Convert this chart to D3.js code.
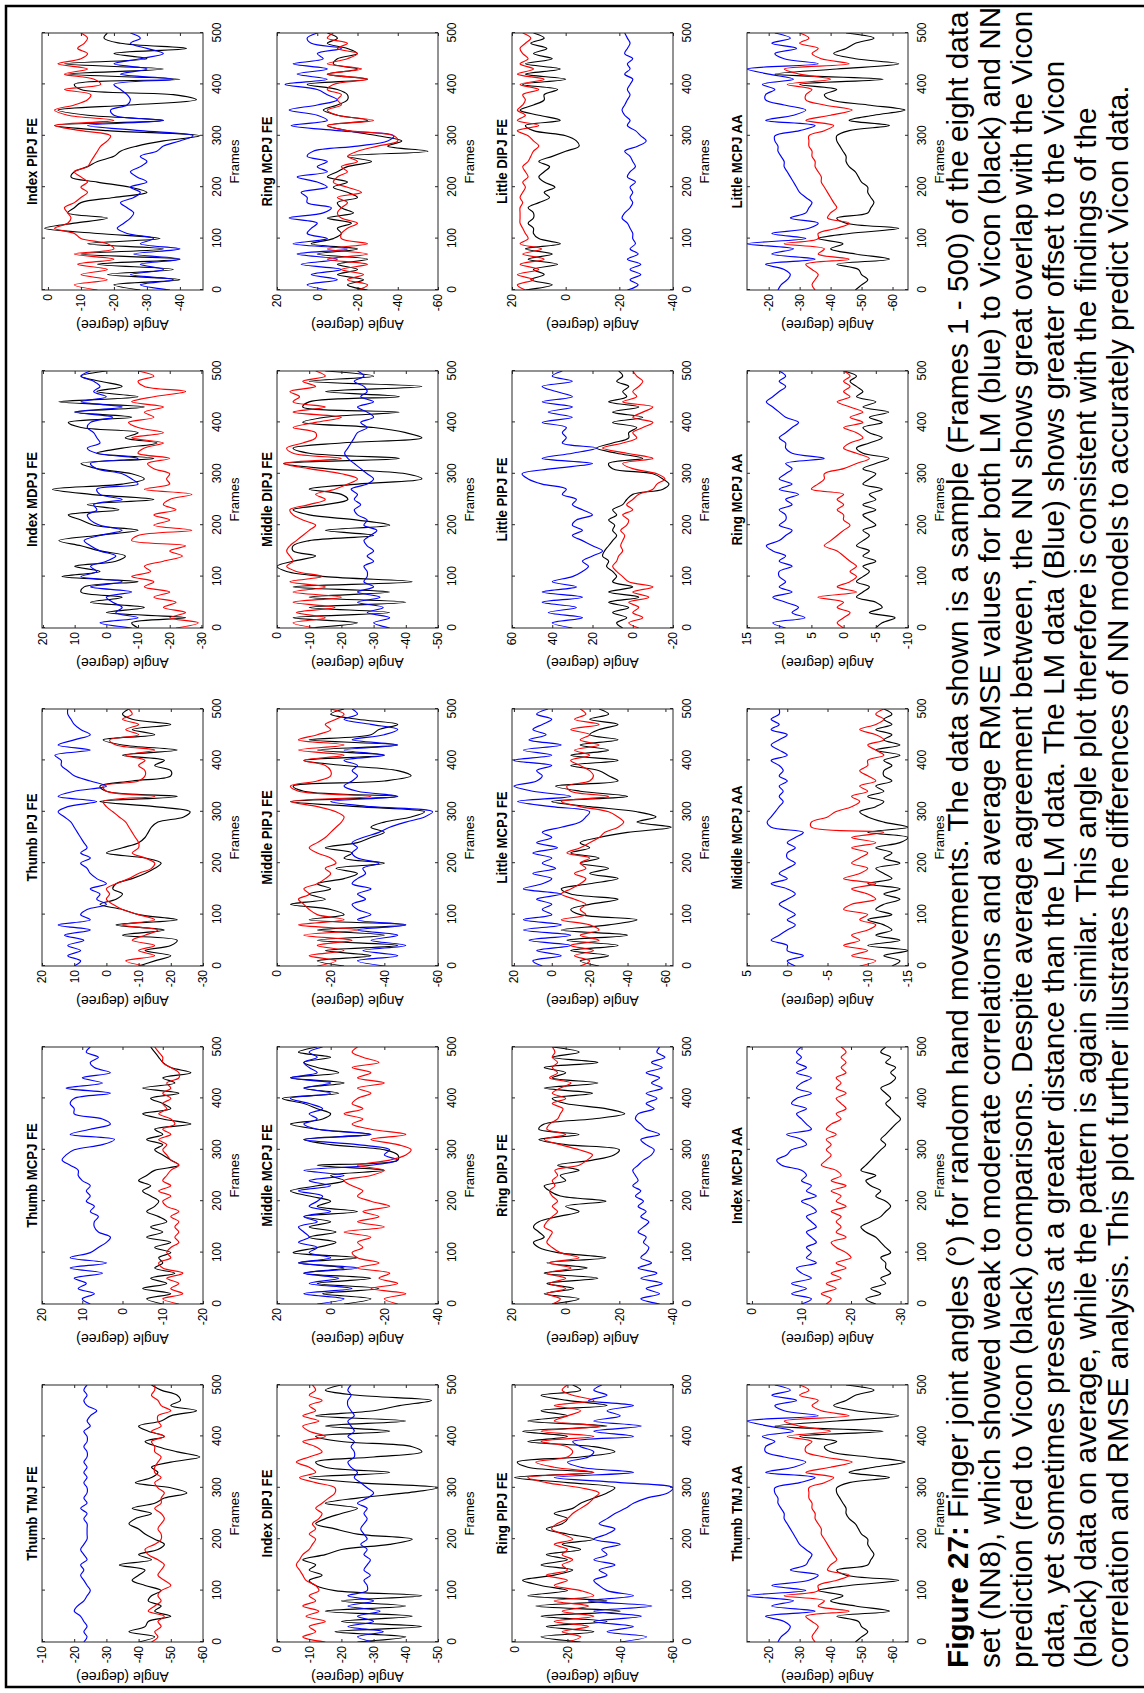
<!DOCTYPE html>
<html>
<head>
<meta charset="utf-8">
<script src="https://cdn.jsdelivr.net/npm/d3@7"></script>
<style>
  html, body { margin: 0; padding: 0; background: #fff; }
  svg { display: block; }
</style>
</head>
<body>
<svg id="fig" width="1144" height="1693"></svg>
<script>
// Sampled frame indices (every 10th frame of frames 0-500)
const frames = d3.range(0, 501, 10);
const frameTicks = [0, 100, 200, 300, 400, 500];

// ---- Joint angle series (degrees): Vicon (black), LM (blue), NN (red) ----
const thumbTmjFeVicon = [-40,-45,-37,-42,-43,-50,-45,-47,-43,-44,-47,-42,-38,-40,-42,-34,-44,-40,-46,-48,-45,-42,-40,-37,-39,-44,-38,-45,-48,-55,-50,-39,-44,-46,-44,-50,-59,-52,-46,-42,-48,-43,-40,-47,-50,-58,-50,-53,-52,-47,-44];
const thumbTmjFeLM    = [-23,-24,-23,-24,-23,-22,-20,-21,-23,-24,-25,-24,-23,-22,-23,-22,-24,-23,-22,-23,-24,-24,-24,-24,-23,-24,-22,-24,-23,-24,-24,-23,-24,-23,-24,-23,-24,-24,-23,-24,-24,-23,-25,-24,-25,-27,-24,-23,-24,-23,-24];
const thumbTmjFeNN    = [-44,-46,-45,-47,-46,-48,-43,-45,-47,-46,-47,-50,-48,-46,-47,-48,-46,-43,-42,-45,-47,-47,-46,-47,-48,-47,-45,-47,-47,-48,-46,-45,-47,-45,-45,-46,-47,-45,-45,-44,-48,-44,-47,-46,-46,-50,-47,-46,-44,-45,-45];

const thumbMcpjFeVicon = [-10,-6,-12,-5,-11,-7,-13,-8,-10,-9,-12,-8,-12,-6,-10,-7,-11,-9,-6,-8,-9,-7,-5,-7,-4,-6,-8,-14,-12,-10,-8,-10,-6,-10,-8,-17,-10,-5,-12,-10,-7,-14,-5,-13,-10,-17,-12,-10,-9,-8,-7];
const thumbMcpjFeLM    = [8,10,7,11,9,12,5,13,4,13,8,6,4,3,6,7,7,6,8,7,9,8,9,8,10,11,11,13,15,14,12,5,2,13,8,3,5,12,12,13,12,3,14,5,10,3,7,8,6,9,8];
const thumbMcpjFeNN    = [-14,-10,-15,-12,-14,-11,-15,-10,-9,-12,-11,-12,-14,-13,-14,-13,-14,-12,-14,-11,-10,-12,-9,-12,-10,-11,-12,-14,-12,-11,-10,-11,-9,-12,-10,-13,-12,-9,-11,-10,-12,-10,-12,-11,-14,-14,-12,-10,-10,-9,-8];

const thumbIpjFeVicon = [-10,-15,-20,-12,-20,-22,-5,-18,-3,-22,-10,-5,2,-3,-5,-2,-3,-8,-12,-15,-17,-12,0,-5,-10,-12,-13,-14,-16,-24,-26,-15,2,-22,0,2,-8,-20,-20,-15,-18,-5,-22,-5,1,-15,-8,-20,-8,-5,-7];
const thumbIpjFeLM    = [10,8,12,8,12,7,13,5,15,5,8,6,0,3,2,5,0,3,5,6,8,5,8,6,7,8,9,10,11,13,15,12,3,15,10,0,5,10,12,14,14,16,5,15,10,5,8,10,11,12,12];
const thumbIpjFeNN    = [-12,-6,-15,-10,-15,-8,-12,-16,-5,-15,-10,-5,-2,0,-1,0,-3,-7,-10,-14,-15,-12,-8,-10,-10,-9,-8,-7,-6,-4,-2,0,1,-15,0,1,-10,-12,-12,-10,-12,-6,-15,-3,-1,-10,-6,-10,-5,-8,-7];

const indexMdpjFeVicon = [-10,-8,-25,0,-12,5,-5,8,7,-10,14,2,10,-3,-6,2,8,15,3,-10,4,8,12,-4,6,-15,5,17,-5,-12,-8,3,8,-15,3,-5,-16,-6,-10,8,12,-8,10,-12,15,-10,3,-5,2,8,0];
const indexMdpjFeLM    = [-8,2,-10,-3,-5,-2,0,-8,5,-5,8,3,5,0,-3,2,5,7,2,-5,2,5,6,3,4,-5,2,3,-10,-8,-5,3,5,-10,3,6,2,3,4,6,5,-2,10,-5,8,0,4,2,4,8,5];
const indexMdpjFeNN    = [-22,-29,-20,-25,-18,-22,-15,-20,-12,-15,-8,-14,-12,-18,-24,-20,-25,-8,-10,-27,-15,-20,-15,-22,-18,-20,-27,-12,-20,-19,-20,-15,-13,-20,-10,-12,-18,-8,-18,-10,-7,-15,-12,-18,-8,-15,-25,-12,-10,-15,-10];

const indexPipjFeVicon = [-28,-20,-40,-18,-38,-15,-40,-10,-35,-12,-34,-15,1,-8,-18,-6,-8,-10,-20,-30,-25,-15,-7,-8,-12,-15,-20,-22,-27,-35,-46,-18,-2,-35,-12,-3,-25,-45,-38,-10,-8,-40,-6,-35,-5,-30,-20,-42,-22,-17,-18];
const indexPipjFeLM    = [-37,-28,-38,-25,-35,-28,-40,-26,-40,-28,-32,-24,-21,-23,-25,-26,-24,-22,-26,-28,-25,-30,-27,-25,-28,-30,-28,-33,-35,-40,-44,-28,-12,-35,-20,-19,-24,-25,-24,-22,-20,-38,-22,-30,-20,-28,-35,-30,-25,-28,-25];
const indexPipjFeNN    = [-15,-8,-18,-10,-18,-9,-20,-8,-20,-18,-10,-8,-2,-6,-7,-6,-5,-8,-10,-12,-10,-12,-10,-8,-12,-13,-14,-15,-16,-18,-19,-10,-2,-20,-6,-2,-8,-12,-13,-5,-16,-14,-5,-12,-3,-10,-12,-9,-11,-12,-10];

const indexDipjFeVicon = [-25,-40,-18,-45,-20,-42,-15,-40,-20,-45,-18,-12,-10,-14,-10,-12,-8,-15,-20,-35,-42,-25,-18,-12,-15,-20,-25,-15,-25,-40,-50,-25,-10,-35,-15,-12,-30,-45,-42,-20,-12,-35,-15,-40,-12,-30,-38,-48,-25,-15,-20];
const indexDipjFeLM    = [-30,-25,-33,-22,-30,-25,-32,-22,-30,-22,-28,-28,-27,-29,-27,-28,-29,-27,-28,-26,-28,-27,-26,-27,-28,-27,-28,-25,-28,-30,-28,-26,-24,-25,-23,-22,-24,-24,-23,-24,-22,-24,-23,-22,-24,-23,-22,-22,-23,-22,-23];
const indexDipjFeNN    = [-15,-8,-12,-10,-15,-9,-13,-8,-12,-10,-13,-12,-9,-8,-7,-6,-7,-8,-10,-11,-12,-10,-12,-11,-13,-14,-12,-14,-16,-18,-18,-12,-7,-12,-10,-6,-10,-14,-12,-8,-15,-10,-8,-13,-8,-12,-10,-14,-10,-12,-11];

const middleMcpjFeVicon = [-5,-15,3,-18,5,-15,10,-5,12,-10,14,5,-2,8,-2,8,0,10,-10,5,0,8,15,5,-5,0,-20,5,-25,-25,-20,0,10,-15,5,15,3,0,5,10,18,-3,10,-5,15,-3,5,10,0,12,5];
const middleMcpjFeLM    = [5,-5,10,-8,8,-3,10,-10,12,0,8,5,12,8,10,12,5,10,0,8,5,3,12,0,8,-5,10,-15,-25,-20,-22,-10,10,-15,5,10,5,8,3,8,15,0,10,0,15,5,8,10,5,8,3];
const middleMcpjFeNN    = [-25,-20,-28,-15,-25,-18,-22,-10,-18,-10,-8,-12,-10,-15,-5,-20,-10,-18,-12,-22,-15,-10,-12,-8,-5,-15,-20,-10,-22,-28,-30,-25,-15,-28,-15,-8,-12,-5,-12,-8,-10,-15,-10,-20,-10,-15,-8,-18,-12,-8,-10];

const middlePipjFeVicon = [-25,-15,-35,-18,-45,-15,-40,-15,-48,-12,-25,-20,-5,-18,-12,-20,-15,-25,-30,-22,-40,-25,-28,-18,-30,-35,-40,-35,-40,-50,-55,-30,-5,-45,-10,-6,-40,-50,-45,-25,-10,-40,-15,-45,-12,-35,-38,-45,-30,-20,-25];
const middlePipjFeLM    = [-40,-30,-45,-32,-48,-35,-45,-30,-48,-30,-35,-30,-28,-33,-30,-35,-28,-30,-33,-32,-38,-30,-28,-30,-28,-32,-38,-42,-48,-55,-58,-35,-20,-45,-30,-25,-28,-30,-28,-30,-25,-40,-25,-45,-28,-40,-45,-35,-25,-30,-28];
const middlePipjFeNN    = [-15,-22,-12,-25,-15,-28,-10,-30,-8,-25,-15,-12,-10,-8,-12,-10,-15,-18,-20,-18,-22,-20,-15,-12,-15,-18,-20,-22,-24,-25,-22,-15,-5,-35,-8,-5,-15,-20,-20,-18,-10,-25,-8,-25,-8,-15,-20,-18,-22,-25,-20];

const middleDipjFeVicon = [-10,-25,-5,-35,-10,-40,-10,-35,-5,-42,-15,-3,0,-5,-12,-5,-5,-10,-30,-15,-35,-25,-10,-5,-15,-22,-20,-10,-25,-45,-40,-15,-2,-38,-10,-5,-20,-45,-40,-30,-8,-15,-38,-8,-10,-38,-15,-45,-10,-30,-15];
const middleDipjFeLM    = [-35,-30,-35,-28,-33,-25,-32,-25,-30,-27,-28,-28,-27,-30,-28,-30,-28,-27,-29,-31,-27,-28,-25,-24,-26,-24,-25,-23,-28,-30,-28,-26,-24,-22,-21,-22,-23,-24,-25,-28,-26,-30,-28,-25,-30,-26,-28,-27,-24,-27,-25];
const middleDipjFeNN    = [-12,-5,-15,-6,-18,-5,-20,-5,-15,-4,-14,-6,-3,-5,-4,-3,-4,-6,-8,-10,-12,-8,-5,-4,-10,-15,-12,-18,-22,-25,-20,-10,-2,-20,-5,-3,-8,-12,-12,-5,-12,-20,-5,-15,-5,-7,-4,-12,-8,-15,-12];

const ringMcpjFeVicon = [-25,-15,-23,-10,-20,-10,-25,0,-20,3,-8,-12,-10,-17,-5,-18,-12,-10,-20,-15,-8,-15,-5,-10,-15,-27,-15,-55,-35,-42,-30,-15,-5,-25,-10,-3,-10,-15,-15,-10,5,-25,-5,-20,-8,-10,-20,-15,-5,-10,-5];
const ringMcpjFeLM    = [-5,5,-10,3,-12,8,-10,10,-15,12,-5,5,3,0,14,-3,-7,5,5,8,-5,0,10,-5,0,-5,5,2,-20,-35,-38,-10,13,-5,0,14,0,-10,-5,0,16,-5,10,-5,12,-3,0,-12,3,5,0];
const ringMcpjFeNN    = [-20,-25,-15,-23,-12,-25,-5,-25,-5,-25,-12,-12,-15,-20,-12,-10,-12,-15,-10,-22,-15,-8,-10,-15,-12,-20,-15,-20,-30,-40,-38,-15,-5,-28,-10,-5,-12,-10,-12,-5,-8,-25,-5,-22,-5,-15,-20,-10,-15,-5,-8];

const ringPipjFeVicon = [-25,-10,-30,-12,-35,-10,-40,-8,-35,-5,-20,-10,-3,-15,-22,-10,-20,-12,-25,-18,-30,-20,-12,-18,-20,-15,-22,-25,-30,-35,-38,-20,0,-30,-5,-1,-25,-38,-30,-5,-20,-3,-35,-5,-20,-10,-35,-20,-10,-25,-22];
const ringPipjFeLM    = [-40,-50,-35,-45,-30,-48,-30,-52,-28,-45,-35,-32,-30,-35,-32,-38,-30,-35,-33,-40,-30,-35,-38,-32,-35,-38,-42,-45,-50,-58,-60,-40,-15,-45,-25,-20,-28,-30,-25,-22,-45,-30,-48,-30,-40,-35,-45,-28,-35,-30,-33];
const ringPipjFeNN    = [-20,-25,-18,-28,-15,-30,-18,-28,-15,-30,-25,-15,-20,-12,-20,-18,-22,-18,-20,-15,-22,-18,-14,-16,-20,-22,-25,-28,-30,-32,-25,-12,-5,-30,-15,-8,-20,-22,-20,-10,-30,-10,-32,-15,-20,-25,-15,-30,-22,-18,-20];

const ringDipjFeVicon = [5,-5,8,-3,7,-12,8,-8,7,-15,3,10,12,8,10,12,10,3,-5,0,-15,2,6,8,0,2,-5,3,-10,-18,-20,0,10,-5,10,8,-10,-22,-15,0,5,-10,8,-12,5,0,8,-12,5,-5,5];
const ringDipjFeLM    = [-35,-28,-35,-30,-36,-28,-34,-27,-32,-28,-30,-31,-29,-30,-27,-29,-31,-28,-30,-27,-29,-26,-28,-25,-27,-26,-25,-27,-29,-32,-33,-30,-28,-35,-30,-28,-26,-27,-33,-30,-34,-30,-36,-32,-35,-30,-36,-32,-37,-34,-35];
const ringDipjFeNN    = [5,2,7,0,6,0,7,-2,6,-5,2,5,7,6,5,8,7,5,3,5,3,5,6,4,5,3,4,-5,-8,-10,-5,2,8,0,7,6,3,2,1,5,0,5,2,-2,6,3,5,3,5,4,5];

const littleMcpjFeVicon = [-25,-15,-30,-10,-35,-8,-40,-5,-30,-45,-15,-10,-20,-35,-10,-5,-20,-35,-20,-30,-15,-25,-10,-20,-15,-25,-40,-63,-45,-55,-45,-20,0,-40,-15,-2,-35,-30,-25,-10,-35,-10,-30,-15,-35,-20,-25,-35,-20,-30,-25];
const littleMcpjFeLM    = [5,10,-5,8,-10,12,-10,15,-5,15,0,5,0,8,-5,15,5,0,10,-2,5,0,10,-3,8,0,5,-5,-15,-18,-20,0,18,-10,10,20,8,5,8,0,20,0,15,-5,12,3,10,5,0,8,2];
const littleMcpjFeNN    = [-15,-20,-12,-22,-10,-25,-15,-25,-20,-5,-18,-15,-18,-12,-5,-10,-15,-18,-12,-18,-15,-20,-8,-15,-20,-25,-28,-35,-38,-35,-30,-15,-5,-30,-10,-8,-20,-22,-20,-15,-10,-20,-12,-25,-15,-20,-10,-25,-12,-18,-15];

const littlePipjFeVicon = [5,8,3,10,2,12,-3,12,0,10,8,10,13,12,15,14,12,10,8,10,9,12,8,10,5,3,0,-15,-18,-15,-10,10,12,-5,8,18,10,2,2,-2,10,-5,10,-3,12,3,5,2,8,5,7];
const littlePipjFeLM    = [30,40,25,42,28,45,25,45,28,40,30,25,22,25,20,15,20,25,30,25,30,28,20,25,30,28,35,33,45,52,55,40,20,45,30,18,35,33,35,33,45,30,42,30,45,30,38,45,30,40,35];
const littlePipjFeNN    = [-3,2,-5,0,-3,2,-8,0,-10,2,5,8,10,8,7,5,6,5,4,6,3,2,5,0,3,0,-3,-10,-12,-16,-12,0,5,-10,3,15,5,-2,0,-5,-10,0,-5,-10,5,-2,0,-3,-5,-2,0];

const littleDipjFeVicon = [15,5,13,8,12,3,14,5,15,2,10,12,12,14,12,12,14,10,6,8,4,8,10,8,6,10,5,0,-5,-4,0,12,15,2,10,17,12,8,8,3,16,0,15,2,15,5,12,7,13,8,12];
const littleDipjFeLM    = [-23,-27,-24,-28,-24,-28,-23,-27,-24,-26,-25,-25,-24,-23,-21,-22,-24,-25,-24,-25,-24,-26,-23,-24,-26,-25,-24,-22,-27,-30,-28,-26,-23,-24,-22,-21,-22,-23,-24,-23,-24,-25,-22,-24,-23,-25,-22,-23,-24,-23,-22];
const littleDipjFeNN    = [15,18,12,18,10,17,8,16,9,17,14,15,16,17,17,17,17,16,17,16,15,16,14,15,16,14,13,12,10,12,14,18,10,18,15,18,16,15,16,10,17,8,18,12,17,14,16,17,15,13,16];

const littleMcpjAaVicon = [-48,-50,-52,-50,-49,-42,-59,-48,-40,-44,-36,-46,-62,-45,-42,-52,-53,-54,-53,-52,-52,-50,-49,-48,-46,-45,-45,-44,-43,-42,-42,-46,-59,-46,-54,-64,-52,-40,-38,-42,-30,-57,-22,-42,-62,-48,-41,-45,-48,-54,-45];
const littleMcpjAaLM    = [-23,-24,-26,-27,-25,-19,-35,-21,-28,-13,-32,-21,-33,-36,-27,-32,-33,-34,-32,-30,-29,-28,-27,-26,-25,-25,-24,-23,-23,-22,-22,-30,-35,-19,-28,-32,-25,-19,-19,-22,-18,-28,-20,-13,-36,-25,-22,-29,-21,-27,-22];
const littleMcpjAaNN    = [-35,-34,-35,-36,-34,-32,-46,-36,-38,-25,-36,-36,-42,-46,-39,-40,-42,-41,-40,-39,-38,-37,-37,-36,-35,-35,-34,-34,-33,-33,-33,-38,-41,-32,-40,-47,-38,-32,-32,-34,-26,-40,-30,-25,-46,-37,-34,-36,-30,-33,-30];

// Thumb TMJ AA traces coincide with Little MCPJ AA
const thumbTmjAaVicon = littleMcpjAaVicon;
const thumbTmjAaLM    = littleMcpjAaLM;
const thumbTmjAaNN    = littleMcpjAaNN;

const indexMcpjAaVicon = [-25,-23,-26,-24,-27,-26,-28,-27,-27,-26,-28,-27,-26,-25,-23,-22,-24,-26,-27,-28,-27,-25,-26,-24,-23,-25,-22,-23,-24,-25,-26,-27,-26,-27,-28,-29,-30,-29,-28,-27,-28,-27,-26,-28,-29,-28,-29,-27,-28,-26,-27];
const indexMcpjAaLM    = [-10,-12,-8,-11,-8,-12,-10,-9,-13,-11,-12,-11,-13,-12,-11,-13,-12,-11,-13,-12,-10,-13,-11,-12,-10,-11,-10,-6,-5,-7,-8,-11,-10,-7,-12,-11,-10,-9,-11,-8,-9,-12,-9,-10,-12,-9,-11,-9,-10,-9,-10];
const indexMcpjAaNN    = [-15,-16,-14,-17,-15,-18,-16,-19,-17,-20,-19,-17,-16,-19,-17,-18,-17,-18,-16,-19,-17,-18,-16,-19,-16,-18,-17,-14,-15,-16,-15,-16,-15,-17,-15,-16,-18,-17,-19,-18,-17,-19,-17,-18,-17,-19,-18,-19,-18,-19,-18];

const middleMcpjAaVicon = [-13,-14,-12,-15,-10,-14,-11,-13,-12,-10,-13,-11,-12,-14,-12,-14,-10,-13,-12,-11,-14,-12,-13,-11,-14,-15,-10,-15,-12,-10,-9,-11,-12,-10,-12,-11,-13,-12,-12,-13,-12,-14,-11,-14,-12,-13,-11,-13,-12,-13,-12];
const middleMcpjAaLM    = [-1,0,-2,0,0,2,1,0,-1,0,-1,0,1,0,-1,0,2,0,1,0,-1,0,0,-1,0,-1,-2,2,2.5,2,1.5,1,0.5,1,0.5,1,0,1,0.5,1,2,0,1,2,1,0,2,1,2,1,1];
const middleMcpjAaNN    = [-9,-11,-8,-10,-7,-9,-8,-10,-11,-9,-10,-7,-8,-11,-10,-8,-11,-7,-9,-10,-8,-9,-10,-8,-11,-8,-12,-3,-3,-5,-6,-8,-9,-8,-10,-9,-11,-10,-9,-10,-10,-12,-11,-10,-12,-11,-9,-11,-12,-11,-12];

const ringMcpjAaVicon = [-5,-6,-8,-4,-6,-5,-2,-3,-4,-2,-3,-4,-3,-5,-3,-4,-2,-3,-4,-3,-5,-4,-3,-5,-3,-5,-4,-6,-3,-4,-5,-3,-5,-7,-3,-2,-4,-6,-4,-3,-6,-4,-7,-3,-5,-2,-3,-2,-1,-2,0];
const ringMcpjAaLM    = [9,11,6,8,7,9,11,8,10,9,10,10,8,10,9,11,12,10,9,8,10,9,9,10,8,9,7,10,8,10,9,8,9,3,8,9,9,10,9,8,7,9,10,11,12,11,10,9,10,9,10];
const ringMcpjAaNN    = [0,1,0,-1,1,0,4,-2,1,-1,-2,-1,-2,-1,0,1,3,2,1,0,-1,0,0,1,0,1,0,5,4,3,3,0,-2,-4,-2,0,-1,-3,-2,0,-3,-1,-3,-1,1,-1,0,-1,0,-1,0];

// ---- Panel grid, axis limits and tick labels ----
const panelGrid = [
  ["Thumb TMJ FE", "Thumb MCPJ FE", "Thumb IPJ FE", "Index MDPJ FE", "Index PIPJ FE"],
  ["Index DIPJ FE", "Middle MCPJ FE", "Middle PIPJ FE", "Middle DIPJ FE", "Ring MCPJ FE"],
  ["Ring PIPJ FE", "Ring DIPJ FE", "Little MCPJ FE", "Little PIPJ FE", "Little DIPJ FE"],
  ["Thumb TMJ AA", "Index MCPJ AA", "Middle MCPJ AA", "Ring MCPJ AA", "Little MCPJ AA"]
];

const angleLimits = {
  "Thumb TMJ FE": [-60, -10], "Thumb MCPJ FE": [-20, 20], "Thumb IPJ FE": [-30, 20],
  "Index MDPJ FE": [-30.5, 20.3], "Index PIPJ FE": [-47, 1.8],
  "Index DIPJ FE": [-50, 0], "Middle MCPJ FE": [-40, 20], "Middle PIPJ FE": [-60, 0],
  "Middle DIPJ FE": [-50, 0], "Ring MCPJ FE": [-60, 20],
  "Ring PIPJ FE": [-60, 1], "Ring DIPJ FE": [-40, 20], "Little MCPJ FE": [-64, 21],
  "Little PIPJ FE": [-20, 60], "Little DIPJ FE": [-40, 20],
  "Thumb TMJ AA": [-65, -13], "Index MCPJ AA": [-31.5, 1], "Middle MCPJ AA": [-15, 5],
  "Ring MCPJ AA": [-10, 15], "Little MCPJ AA": [-65, -13]
};

const angleTicks = {
  "Thumb TMJ FE": [-60, -50, -40, -30, -20, -10], "Thumb MCPJ FE": [-20, -10, 0, 10, 20],
  "Thumb IPJ FE": [-30, -20, -10, 0, 10, 20], "Index MDPJ FE": [-30, -20, -10, 0, 10, 20],
  "Index PIPJ FE": [-40, -30, -20, -10, 0],
  "Index DIPJ FE": [-50, -40, -30, -20, -10, 0], "Middle MCPJ FE": [-40, -20, 0, 20],
  "Middle PIPJ FE": [-60, -40, -20, 0], "Middle DIPJ FE": [-50, -40, -30, -20, -10, 0],
  "Ring MCPJ FE": [-60, -40, -20, 0, 20],
  "Ring PIPJ FE": [-60, -40, -20, 0], "Ring DIPJ FE": [-40, -20, 0, 20],
  "Little MCPJ FE": [-60, -40, -20, 0, 20], "Little PIPJ FE": [-20, 0, 20, 40, 60],
  "Little DIPJ FE": [-40, -20, 0, 20],
  "Thumb TMJ AA": [-60, -50, -40, -30, -20], "Index MCPJ AA": [-30, -20, -10, 0],
  "Middle MCPJ AA": [-15, -10, -5, 0, 5], "Ring MCPJ AA": [-10, -5, 0, 5, 10, 15],
  "Little MCPJ AA": [-60, -50, -40, -30, -20]
};

const viconSeries = {
  "Thumb TMJ FE": thumbTmjFeVicon, "Thumb MCPJ FE": thumbMcpjFeVicon, "Thumb IPJ FE": thumbIpjFeVicon,
  "Index MDPJ FE": indexMdpjFeVicon, "Index PIPJ FE": indexPipjFeVicon,
  "Index DIPJ FE": indexDipjFeVicon, "Middle MCPJ FE": middleMcpjFeVicon, "Middle PIPJ FE": middlePipjFeVicon,
  "Middle DIPJ FE": middleDipjFeVicon, "Ring MCPJ FE": ringMcpjFeVicon,
  "Ring PIPJ FE": ringPipjFeVicon, "Ring DIPJ FE": ringDipjFeVicon, "Little MCPJ FE": littleMcpjFeVicon,
  "Little PIPJ FE": littlePipjFeVicon, "Little DIPJ FE": littleDipjFeVicon,
  "Thumb TMJ AA": thumbTmjAaVicon, "Index MCPJ AA": indexMcpjAaVicon, "Middle MCPJ AA": middleMcpjAaVicon,
  "Ring MCPJ AA": ringMcpjAaVicon, "Little MCPJ AA": littleMcpjAaVicon
};
const lmSeries = {
  "Thumb TMJ FE": thumbTmjFeLM, "Thumb MCPJ FE": thumbMcpjFeLM, "Thumb IPJ FE": thumbIpjFeLM,
  "Index MDPJ FE": indexMdpjFeLM, "Index PIPJ FE": indexPipjFeLM,
  "Index DIPJ FE": indexDipjFeLM, "Middle MCPJ FE": middleMcpjFeLM, "Middle PIPJ FE": middlePipjFeLM,
  "Middle DIPJ FE": middleDipjFeLM, "Ring MCPJ FE": ringMcpjFeLM,
  "Ring PIPJ FE": ringPipjFeLM, "Ring DIPJ FE": ringDipjFeLM, "Little MCPJ FE": littleMcpjFeLM,
  "Little PIPJ FE": littlePipjFeLM, "Little DIPJ FE": littleDipjFeLM,
  "Thumb TMJ AA": thumbTmjAaLM, "Index MCPJ AA": indexMcpjAaLM, "Middle MCPJ AA": middleMcpjAaLM,
  "Ring MCPJ AA": ringMcpjAaLM, "Little MCPJ AA": littleMcpjAaLM
};
const nnSeries = {
  "Thumb TMJ FE": thumbTmjFeNN, "Thumb MCPJ FE": thumbMcpjFeNN, "Thumb IPJ FE": thumbIpjFeNN,
  "Index MDPJ FE": indexMdpjFeNN, "Index PIPJ FE": indexPipjFeNN,
  "Index DIPJ FE": indexDipjFeNN, "Middle MCPJ FE": middleMcpjFeNN, "Middle PIPJ FE": middlePipjFeNN,
  "Middle DIPJ FE": middleDipjFeNN, "Ring MCPJ FE": ringMcpjFeNN,
  "Ring PIPJ FE": ringPipjFeNN, "Ring DIPJ FE": ringDipjFeNN, "Little MCPJ FE": littleMcpjFeNN,
  "Little PIPJ FE": littlePipjFeNN, "Little DIPJ FE": littleDipjFeNN,
  "Thumb TMJ AA": thumbTmjAaNN, "Index MCPJ AA": indexMcpjAaNN, "Middle MCPJ AA": middleMcpjAaNN,
  "Ring MCPJ AA": ringMcpjAaNN, "Little MCPJ AA": littleMcpjAaNN
};

const captionLines = [
  ["Figure 27:", " Finger joint angles (°) for random hand movements. The data shown is a sample (Frames 1 - 500) of the eight data"],
  ["", "set (NN8), which showed weak to moderate correlations and average RMSE values for both LM (blue) to Vicon (black) and NN"],
  ["", "prediction (red to Vicon (black) comparisons. Despite average agreement between, the NN shows great overlap with the Vicon"],
  ["", "data, yet sometimes presents at a greater distance than the LM data. The LM data (Blue) shows greater offset to the Vicon"],
  ["", "(black) data on average, while the pattern is again similar. This angle plot therefore is consistent with the findings of the"],
  ["", "correlation and RMSE analysis. This plot further illustrates the differences of NN models to accurately predict Vicon data."]
];

// ---- Layout (page is drawn in landscape, then turned a quarter turn) ----
const PAGE_W = 1144, PAGE_H = 1693;
const boxW = 257, boxH = 161;
const colPitch = 338, rowPitch = 235;
const gridLeft = 51, gridTop = 42;
const font = "'Liberation Sans', Arial, Helvetica, sans-serif";
const axisColor = "#262626";

const svg = d3.select("#fig");
svg.append("rect").attr("width", PAGE_W).attr("height", PAGE_H).attr("fill", "#fff");

// landscape frame: u runs along the page height (bottom -> top), v along the page width
const page = svg.append("g").attr("transform", `translate(0,${PAGE_H}) rotate(-90)`);

// outer frame
page.append("rect")
  .attr("x", 6).attr("y", 6)
  .attr("width", PAGE_H - 12).attr("height", PAGE_W - 4)
  .attr("fill", "none").attr("stroke", "#000").attr("stroke-width", 2.5);

const defs = svg.append("defs");

panelGrid.forEach((rowTitles, r) => {
  rowTitles.forEach((title, c) => {
    const u0 = gridLeft + c * colPitch;
    const v0 = gridTop + r * rowPitch;
    const x = d3.scaleLinear().domain([0, 500]).range([u0, u0 + boxW]);
    const y = d3.scaleLinear().domain(angleLimits[title]).range([v0 + boxH, v0]);
    const ticks = angleTicks[title];
    const g = page.append("g").attr("class", "panel");

    const clipId = `clip-${r}-${c}`;
    defs.append("clipPath").attr("id", clipId)
      .append("rect").attr("x", u0).attr("y", v0).attr("width", boxW).attr("height", boxH);

    // traces
    const line = d3.line()
      .x((d, i) => x(frames[i]))
      .y(d => y(d))
      .curve(d3.curveCatmullRom.alpha(0.5));
    const traces = g.append("g").attr("clip-path", `url(#${clipId})`);
    [[viconSeries[title], "#000000"], [lmSeries[title], "#0000ff"], [nnSeries[title], "#ff0000"]]
      .forEach(([vals, col]) => {
        traces.append("path")
          .datum(vals.slice(0, frames.length))
          .attr("d", line)
          .attr("fill", "none")
          .attr("stroke", col)
          .attr("stroke-width", 1.15)
          .attr("stroke-linejoin", "round");
      });

    // axes (ticks point inward, mirrored on all four sides)
    const styleAxis = sel => {
      sel.select(".domain").remove();
      sel.attr("font-family", font).attr("color", axisColor);
      sel.selectAll("text").attr("fill", "#000");
    };
    g.append("g").attr("transform", `translate(0,${v0 + boxH})`)
      .call(d3.axisBottom(x).tickValues(frameTicks).tickSizeInner(-3).tickSizeOuter(0)
        .tickPadding(9).tickFormat(d => String(d)))
      .call(styleAxis).attr("font-size", 12);
    g.append("g").attr("transform", `translate(0,${v0})`)
      .call(d3.axisTop(x).tickValues(frameTicks).tickSizeInner(-3).tickSizeOuter(0).tickFormat(() => ""))
      .call(styleAxis);
    g.append("g").attr("transform", `translate(${u0},0)`)
      .call(d3.axisLeft(y).tickValues(ticks).tickSizeInner(-3).tickSizeOuter(0)
        .tickPadding(4).tickFormat(d => String(d)))
      .call(styleAxis).attr("font-size", 12);
    g.append("g").attr("transform", `translate(${u0 + boxW},0)`)
      .call(d3.axisRight(y).tickValues(ticks).tickSizeInner(-3).tickSizeOuter(0).tickFormat(() => ""))
      .call(styleAxis);

    // plot box
    g.append("rect")
      .attr("x", u0).attr("y", v0).attr("width", boxW).attr("height", boxH)
      .attr("fill", "none").attr("stroke", axisColor).attr("stroke-width", 1);

    // title (condensed bold) and axis labels
    g.append("text")
      .attr("transform", `translate(${u0 + boxW / 2},${v0 - 5}) scale(0.88,1)`)
      .attr("text-anchor", "middle")
      .attr("font-family", font).attr("font-size", 15).attr("font-weight", "bold")
      .text(title);
    g.append("text")
      .attr("x", u0 + boxW / 2).attr("y", v0 + boxH + 36)
      .attr("text-anchor", "middle")
      .attr("font-family", font).attr("font-size", 13)
      .text("Frames");
    g.append("text")
      .attr("transform", `translate(${u0 - 30},${v0 + boxH / 2}) rotate(-90)`)
      .attr("text-anchor", "middle")
      .attr("font-family", font).attr("font-size", 14)
      .text("Angle (degree)");
  });
});

// caption, sized so the first line spans the full frame width
const capStart = 25, capEnd = 1682, capBase = 968, capStep = 32;
const caption = page.append("g").attr("font-family", font).attr("fill", "#000");
const capTexts = captionLines.map(([lead, rest], i) => {
  const t = caption.append("text").attr("x", capStart).attr("y", capBase + i * capStep)
    .attr("font-size", 24);
  if (lead) t.append("tspan").attr("font-weight", "bold").text(lead);
  t.append("tspan").text(rest);
  return t;
});
const firstLen = capTexts[0].node().getComputedTextLength();
if (firstLen > 0) {
  const fs = 24 * (capEnd - capStart) / firstLen;
  capTexts.forEach(t => t.attr("font-size", fs.toFixed(2)));
}
</script>
</body>
</html>
